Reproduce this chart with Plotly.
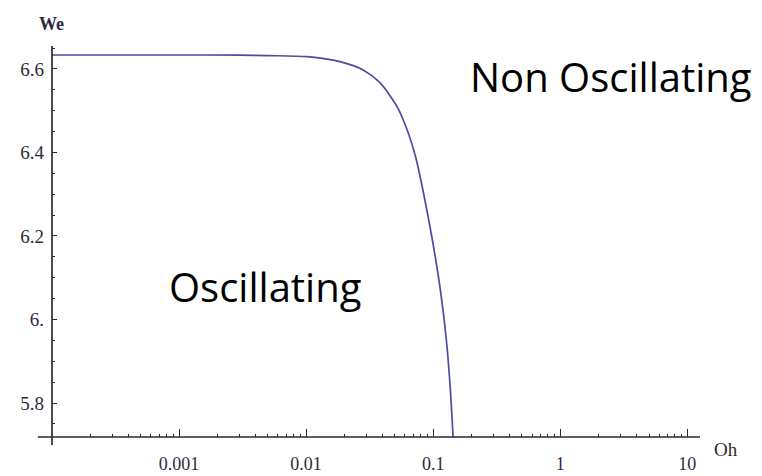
import plotly.graph_objects as go

# Data
oh_values = [1e-4, 1e-3, 3e-3, 5e-3, 0.0102, 0.0185, 0.0281, 0.0383, 0.0521, 0.0637,
             0.0728, 0.0830, 0.0986, 0.1139, 0.1270, 0.1366, 0.1429, 0.1445]
we_values = [6.6335, 6.6335, 6.6333, 6.632, 6.6295, 6.6175, 6.5976, 6.5665, 6.509, 6.4467,
             6.3892, 6.3102, 6.1904, 6.0707, 5.9509, 5.8311, 5.7281, 5.70]

x_tick_vals = [0.001, 0.01, 0.1, 1, 10]
x_tick_text = ["0.001", "0.01", "0.1", "1", "10"]
y_tick_vals = [5.8, 6.0, 6.2, 6.4, 6.6]
y_tick_text = ["5.8", "6.", "6.2", "6.4", "6.6"]

x_minor = [k * 10.0 ** d for d in range(-4, 2) for k in range(2, 10)]
y_minor = [round(5.75 + 0.05 * i, 2) for i in range(19)]

AX = "#2a2a2a"
LBL = "#2f2a3a"

fig = go.Figure()
fig.add_trace(go.Scatter(
    x=oh_values, y=we_values, mode="lines",
    line=dict(color="#4b4ba8", width=1.7, shape="spline", smoothing=0.7),
    showlegend=False, hoverinfo="skip",
))

fig.update_layout(
    width=762, height=476,
    margin=dict(l=52, r=62, t=46, b=39),
    paper_bgcolor="white", plot_bgcolor="white",
    xaxis=dict(
        type="log", range=[-4, 1.10], automargin=False,
        tickvals=x_tick_vals, ticktext=x_tick_text,
        ticks="inside", ticklen=8, tickwidth=1.3, tickcolor=AX,
        minor=dict(tickvals=x_minor, ticks="inside", ticklen=3, tickwidth=1.3,
                   tickcolor=AX, showgrid=False),
        showline=False, showgrid=False, zeroline=False,
        tickfont=dict(family="Liberation Serif", size=18, color=LBL),
        ticklabelstandoff=14,
    ),
    yaxis=dict(
        range=[5.7186, 6.655], automargin=False,
        tickvals=y_tick_vals, ticktext=y_tick_text,
        ticks="inside", ticklen=5, tickwidth=1.3, tickcolor=AX,
        minor=dict(tickvals=y_minor, ticks="inside", ticklen=3, tickwidth=1.3,
                   tickcolor=AX, showgrid=False),
        showline=False, showgrid=False, zeroline=False,
        tickfont=dict(family="Liberation Serif", size=19, color=LBL),
        ticklabelstandoff=7,
    ),
    shapes=[
        dict(type="line", xref="paper", yref="paper", x0=-0.0216, x1=1, y0=0, y1=0,
             line=dict(color=AX, width=1.7)),
        dict(type="line", xref="paper", yref="paper", x0=0, x1=0, y0=-0.0205, y1=1,
             line=dict(color=AX, width=1.7)),
    ],
    annotations=[
        dict(text="We", xref="paper", yref="paper", x=-0.0015, y=1.056,
             xanchor="center", yanchor="middle", showarrow=False,
             font=dict(family="Liberation Serif", size=18, color=LBL, weight="bold")),
        dict(text="Oh", xref="paper", yref="paper", x=1.040, y=-0.031,
             xanchor="center", yanchor="middle", showarrow=False,
             font=dict(family="Liberation Serif", size=19, color=LBL)),
        dict(text="Non Oscillating", xref="paper", yref="paper", x=0.8627, y=0.921,
             xanchor="center", yanchor="middle", showarrow=False,
             font=dict(family="Open Sans", size=40, color="black")),
        dict(text="Oscillating", xref="paper", yref="paper", x=0.329, y=0.384,
             xanchor="center", yanchor="middle", showarrow=False,
             font=dict(family="Open Sans", size=40, color="black")),
    ],
)

fig.write_html("out.html")
